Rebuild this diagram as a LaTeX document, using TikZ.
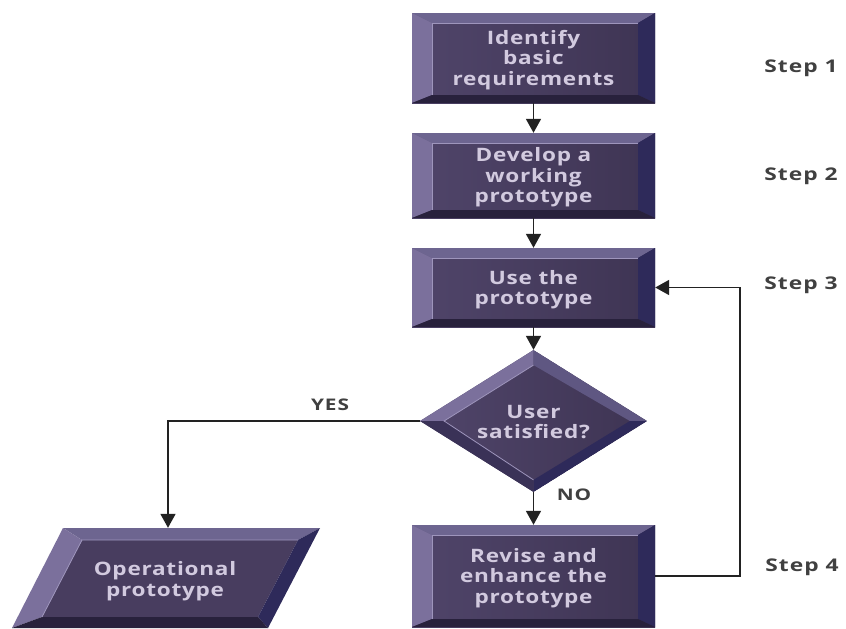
\documentclass[tikz,border=0pt]{standalone}
\usepackage{fontspec}
\setmainfont{Open Sans}
\newfontfamily\boxfam{Open Sans}[FakeStretch=1.22,LetterSpace=4]
\newfontfamily\stepfam{Open Sans}[FakeStretch=1.3,LetterSpace=6]
\usetikzlibrary{arrows.meta,shapes.geometric,calc}
\definecolor{faceL}{HTML}{50456A}
\definecolor{faceR}{HTML}{3E3453}
\definecolor{face}{HTML}{483D5F}
\definecolor{bvtop}{HTML}{6D6590}
\definecolor{bvleft}{HTML}{7B709C}
\definecolor{bvright}{HTML}{2E2A5A}
\definecolor{bvbot}{HTML}{28213C}
\definecolor{bvmid}{HTML}{5F5782}
\definecolor{bvdk}{HTML}{3A3257}
\definecolor{btext}{HTML}{D2CADF}
\definecolor{hl}{HTML}{9E95BC}
\definecolor{linec}{HTML}{222222}
\definecolor{steptext}{HTML}{404040}
\tikzset{
  bevbox/.style={rectangle, inner sep=0pt, minimum width=243pt, minimum height=#1,
    left color=faceL, right color=faceR,
    path picture={
      \coordinate (bNW) at (path picture bounding box.north west);
      \coordinate (bNE) at (path picture bounding box.north east);
      \coordinate (bSE) at (path picture bounding box.south east);
      \coordinate (bSW) at (path picture bounding box.south west);
      \coordinate (iNW) at ($(bNW)+(20pt,-10pt)$);
      \coordinate (iNE) at ($(bNE)+(-17pt,-10pt)$);
      \coordinate (iSE) at ($(bSE)+(-17pt,8pt)$);
      \coordinate (iSW) at ($(bSW)+(20pt,8pt)$);
      \fill[bvtop] (bNW) -- (bNE) -- (iNE) -- (iNW) -- cycle;
      \fill[bvleft] (bNW) -- (iNW) -- (iSW) -- (bSW) -- cycle;
      \fill[bvright] (bNE) -- (bSE) -- (iSE) -- (iNE) -- cycle;
      \fill[bvbot] (bSW) -- (iSW) -- (iSE) -- (bSE) -- cycle;
      \draw[hl, line width=0.8pt] (iSW) -- (iNW) -- (iNE);
    }},
  decide/.style={diamond, inner sep=0pt, minimum width=227pt, minimum height=142pt,
    left color=faceL, right color=faceR,
    path picture={
      \coordinate (dW) at (path picture bounding box.west);
      \coordinate (dN) at (path picture bounding box.north);
      \coordinate (dE) at (path picture bounding box.east);
      \coordinate (dS) at (path picture bounding box.south);
      \coordinate (jW) at ($(dW)+(24pt,0pt)$);
      \coordinate (jN) at ($(dN)+(0pt,-15pt)$);
      \coordinate (jE) at ($(dE)+(-17pt,0pt)$);
      \coordinate (jS) at ($(dS)+(0pt,12pt)$);
      \fill[bvleft] (dW) -- (dN) -- (jN) -- (jW) -- cycle;
      \fill[bvmid] (dN) -- (dE) -- (jE) -- (jN) -- cycle;
      \fill[bvright] (dE) -- (dS) -- (jS) -- (jE) -- cycle;
      \fill[bvdk] (dS) -- (dW) -- (jW) -- (jS) -- cycle;
      \draw[hl, line width=0.8pt] (jS) -- (jW) -- (jN);
    }},
  plaintext/.style={inner sep=0pt, text=btext, align=center,
    font=\boxfam\bfseries\fontsize{18.5}{20.5}\selectfont},
  steplabel/.style={inner sep=0pt, text=steptext, font=\stepfam\bfseries\fontsize{17.5}{20}\selectfont},
  flowlabel/.style={inner sep=0pt, text=steptext, font=\stepfam\bfseries\fontsize{16}{18}\selectfont},
  arr/.style={draw=linec, line width=1.7pt, -{Triangle[length=14pt,width=15pt]}},
}
\begin{document}
\begin{tikzpicture}[x=1pt,y=-1pt]
\useasboundingbox[fill=white] (0,0) rectangle (846,629);

% boxes
\node[bevbox=90pt] (b1) at (533.5,58) {};
\node[plaintext] (t1) at ([yshift=-2pt]b1.center) {Identify\\basic\\requirements};
\node[bevbox=85pt] (b2) at (533.5,175.5) {};
\node[plaintext] (t2) at ([yshift=-2pt]b2.center) {Develop a\\working\\prototype};
\node[bevbox=79pt] (b3) at (533.5,287.5) {};
\node[plaintext] (t3) at ([yshift=-2pt]b3.center) {Use the\\prototype};
\node[decide] (dia) at (533.5,421) {};
\node[plaintext] (td) at ([yshift=-1pt]dia.center) {User\\satisfied?};
\node[bevbox=102pt] (b4) at (533.5,576) {};
\node[plaintext] (t4) at ([yshift=-2pt]b4.center) {Revise and\\enhance the\\prototype};

% parallelogram (output)
\fill[face] (42,617) -- (82,540) -- (298,540) -- (258,617) -- cycle;
\fill[bvtop] (63,528) -- (320,528) -- (298,540) -- (82,540) -- cycle;
\fill[bvleft] (12,628) -- (63,528) -- (82,540) -- (42,617) -- cycle;
\fill[bvright] (320,528) -- (268,628) -- (258,617) -- (298,540) -- cycle;
\fill[bvbot] (12,628) -- (42,617) -- (258,617) -- (268,628) -- cycle;
\draw[hl, line width=0.8pt] (42,617) -- (82,540) -- (298,540);
\node[minimum width=257pt, minimum height=100pt, inner sep=0pt] (oper) at (168,578) {};
\node[plaintext] (to) at ([xshift=-3pt,yshift=-3pt]oper.center) {Operational\\prototype};

% connectors
\draw[arr] (b1.south) -- (b2.north);
\draw[arr] (b2.south) -- (b3.north);
\draw[arr] (b3.south) -- (dia.north);
\draw[arr] (dia.south) -- (b4.north);
\draw[arr] (dia.west) -| (oper.north);
\draw[arr] (b4.east) -- ++(85,0) |- (b3.east);

% labels
\node[flowlabel] (yes) at (330,405) {YES};
\node[flowlabel] (no) at (574,495) {NO};
\node[steplabel] (s1) at (801,68) {Step 1};
\node[steplabel] (s2) at (801,176) {Step 2};
\node[steplabel] (s3) at (801,285) {Step 3};
\node[steplabel] (s4) at (802,567) {Step 4};
\end{tikzpicture}
\end{document}
